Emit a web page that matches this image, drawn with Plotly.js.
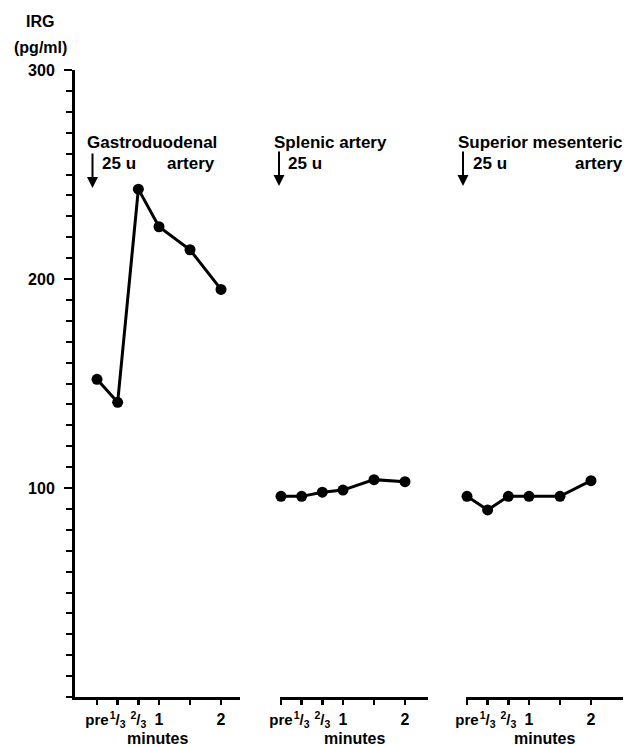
<!DOCTYPE html>
<html>
<head>
<meta charset="utf-8">
<script src="https://cdn.plot.ly/plotly-3.0.1.min.js"></script>
<style>html,body{margin:0;padding:0;background:#fff;}#chart{width:633px;height:747px;}</style>
</head>
<body>
<div id="chart"></div>
<script>
// ---- data ----
var times = [0, 0.333, 0.667, 1, 1.5, 2];
var gastroduodenal = [152, 141, 243, 225, 214, 195];
var splenic = [96, 96, 98, 99, 104, 103];
var superiorMesenteric = [96, 89.5, 96, 96, 96, 103.5];
var xTickVals = [0, 0.333, 0.667, 1, 1.5, 2];
var xTickText = ['<span style="font-size:15px">pre</span>',
                 '<span style="font-size:15px"><sup>1</sup>/<sub>3</sub></span>',
                 '<span style="font-size:15px"><sup>2</sup>/<sub>3</sub></span>', '1', '', '2'];
var yTickVals = [100, 200, 300];
var yTickText = ['100', '200', '300'];
var panelTitles = ['Gastroduodenal', 'Splenic artery', 'Superior mesenteric'];

// ---- layout helpers ----
var W = 633, H = 747, ML = 75, MR = 8, MT = 70, MB = 50;
var PW = W - ML - MR, PH = H - MT - MB;
function px(x) { return (x - ML) / PW; }
function py(y) { return (MT + PH - y) / PH; }

var FONT = 'Liberation Sans, Arial, sans-serif';
var lineStyle = {color: '#000', width: 3};
var markerStyle = {color: '#000', size: 11};

function trace(y, xa) {
  return {x: times, y: y, xaxis: xa, yaxis: 'y', type: 'scatter', mode: 'lines+markers',
          line: lineStyle, marker: markerStyle, cliponaxis: false, hoverinfo: 'skip'};
}
var data = [trace(gastroduodenal, 'x'), trace(splenic, 'x2'), trace(superiorMesenteric, 'x3')];

function xaxis(domain, range) {
  return {domain: domain, range: range, anchor: 'y', showline: true, linewidth: 3, linecolor: '#000',
          ticks: 'outside', ticklen: 5, tickwidth: 2.5, tickcolor: '#000', tickmode: 'array',
          tickvals: xTickVals, ticktext: xTickText, showgrid: false, zeroline: false,
          tickangle: 0, ticklabelstandoff: 1, automargin: false,
          tickfont: {family: FONT, size: 16, color: '#000', weight: 'bold'}};
}

var ann = [];
function txt(text, x, y, xanchor, size) {
  ann.push({text: '<b>' + text + '</b>', xref: 'paper', yref: 'paper', x: px(x), y: py(y),
            xanchor: xanchor, yanchor: 'middle', showarrow: false,
            font: {family: FONT, size: size || 16, color: '#000'}});
}
function arrow(x, yHead) {
  ann.push({text: '', xref: 'paper', yref: 'paper', x: px(x), y: py(yHead), showarrow: true,
            ax: 0, ay: -36, arrowhead: 2, arrowsize: 1.1, arrowwidth: 2, arrowcolor: '#000'});
}
// axis title
txt('IRG', 40, 21, 'center', 16);
txt('(pg/ml)', 40, 47, 'center', 16);
// panel titles
txt(panelTitles[0], 85, 142, 'left', 17);
txt('25 u', 100, 163, 'left', 17);
txt('artery', 217, 163, 'right', 17);
arrow(92.5, 188);
txt(panelTitles[1], 272, 142, 'left', 17);
txt('25 u', 286, 163, 'left', 17);
arrow(279, 186);
txt(panelTitles[2], 456, 142, 'left', 17);
txt('25 u', 471, 163, 'left', 17);
txt('artery', 625, 163, 'right', 17);
arrow(463, 186);
// minutes labels
['x', 'x2', 'x3'].forEach(function (a) {
  ann.push({text: '<b>minutes</b>', xref: a + ' domain', yref: 'paper', x: 0.5, y: py(739),
            xanchor: 'center', yanchor: 'middle', showarrow: false,
            font: {family: FONT, size: 16, color: '#000'}});
});

var layout = {
  width: W, height: H, margin: {l: ML, r: MR, t: MT, b: MB},
  paper_bgcolor: '#fff', plot_bgcolor: '#fff', showlegend: false,
  xaxis: xaxis([0, px(240)], [-0.355, -0.355 + 165 / 62]),
  xaxis2: xaxis([px(280), px(428)], [-0.016, -0.016 + 148 / 62]),
  xaxis3: xaxis([px(466), px(623)], [-0.016, -0.016 + 157 / 62]),
  yaxis: {range: [0, 300], anchor: 'x', showline: true, linewidth: 3, linecolor: '#000',
          ticks: 'outside', ticklen: 8, tickwidth: 2.5, tickcolor: '#000', tickmode: 'array',
          tickvals: yTickVals, ticktext: yTickText, showgrid: false, zeroline: false,
          ticklabelstandoff: 6, automargin: false,
          minor: {dtick: 10, tick0: 0, ticks: 'outside', ticklen: 6, tickwidth: 2, tickcolor: '#000', showgrid: false},
          tickfont: {family: FONT, size: 16, color: '#000', weight: 'bold'}},
  annotations: ann
};
Plotly.newPlot('chart', data, layout, {displayModeBar: false, staticPlot: true});
</script>
</body>
</html>
